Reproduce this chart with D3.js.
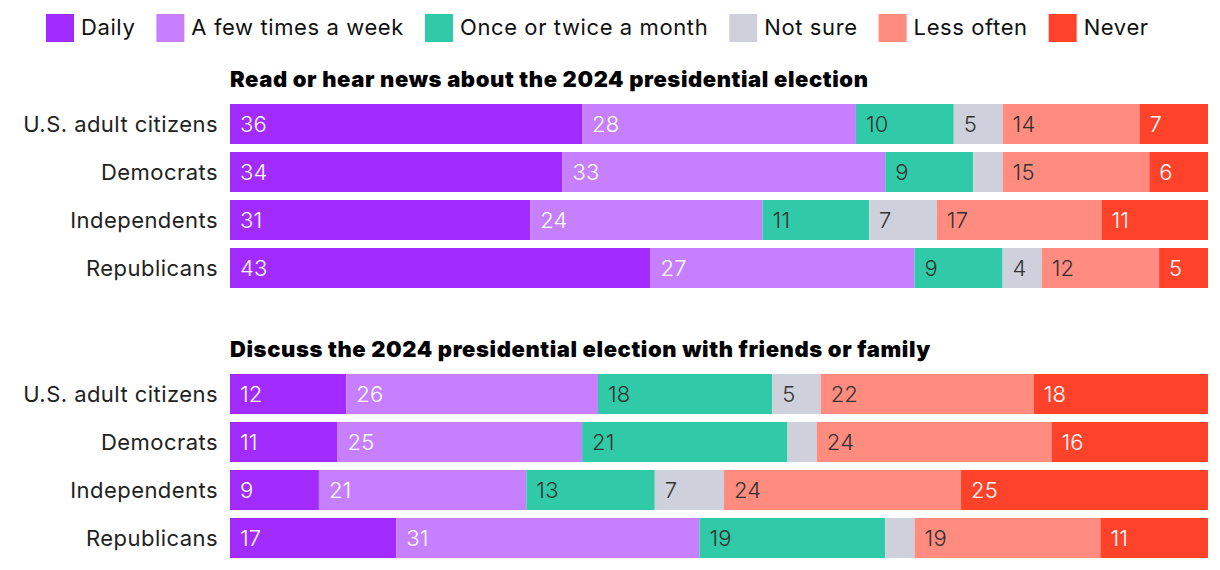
<!DOCTYPE html>
<html>
<head>
<meta charset="utf-8">
<script src="https://cdn.jsdelivr.net/npm/d3@7"></script>
<style>
  html, body { margin: 0; padding: 0; background: #fff; }
  svg { display: block; font-family: Inter, "Open Sans", sans-serif; }
</style>
</head>
<body>
<svg id="chart" width="1220" height="570"></svg>
<script>
// ---- data ----
const seriesNames = ["Daily", "A few times a week", "Once or twice a month", "Not sure", "Less often", "Never"];
const seriesColors = ["#A22BFF", "#C57FFF", "#31CAA9", "#CED1DB", "#FF8C7E", "#FF432B"];
const labelColors = ["#ffffff", "#ffffff", "#333333", "#333333", "#333333", "#ffffff"];
const groups = ["U.S. adult citizens", "Democrats", "Independents", "Republicans"];
const panelTitles = [
  "Read or hear news about the 2024 presidential election",
  "Discuss the 2024 presidential election with friends or family"
];
const newsValues = [
  [36, 28, 10, 5, 14, 7],
  [34, 33, 9, 3, 15, 6],
  [31, 24, 11, 7, 17, 11],
  [43, 27, 9, 4, 12, 5]
];
const discussValues = [
  [12, 26, 18, 5, 22, 18],
  [11, 25, 21, 3, 24, 16],
  [9, 21, 13, 7, 24, 25],
  [17, 31, 19, 3, 19, 11]
];
const panelValues = [newsValues, discussValues];

// ---- layout ----
const svg = d3.select("#chart");
const x0 = 230, x1 = 1208;
const x = d3.scaleLinear().domain([0, 1]).range([x0, x1]);
const panelTops = [104, 374];
const rowStep = 48, barH = 40;

// legend
const legend = svg.append("g");
let lx = 46;
seriesNames.forEach((name, i) => {
  const g = legend.append("g").attr("transform", `translate(${lx},14)`);
  g.append("rect").attr("width", 28).attr("height", 28).attr("fill", seriesColors[i]);
  const t = g.append("text").attr("x", 35).attr("y", 21)
    .attr("font-size", 22).attr("letter-spacing", 0.6).attr("fill", "#111").text(name);
  const w = t.node().getComputedTextLength();
  lx += 35 + w + 21;
});

panelValues.forEach((vals, p) => {
  const top = panelTops[p];
  const y = d3.scaleBand().domain(groups)
    .range([top, top + rowStep * groups.length - (rowStep - barH)])
    .paddingInner((rowStep - barH) / rowStep);
  const g = svg.append("g");
  g.append("text").attr("x", x0).attr("y", top - 17)
    .attr("font-size", 22).attr("font-weight", 900).attr("letter-spacing", 0.6).attr("fill", "#000")
    .text(panelTitles[p]);
  groups.forEach((grp, r) => {
    const row = vals[r];
    const total = d3.sum(row);
    let cum = 0;
    const by = top + r * rowStep;
    g.append("text").attr("x", 218).attr("y", by + barH / 2)
      .attr("dy", "0.36em").attr("text-anchor", "end")
      .attr("font-size", 22).attr("letter-spacing", 0.45).attr("fill", "#222").text(grp);
    row.forEach((v, s) => {
      const a = x(cum / total), b = x((cum + v) / total);
      cum += v;
      g.append("rect").attr("x", a).attr("y", by).attr("width", b - a).attr("height", barH)
        .attr("fill", seriesColors[s]);
      if (v >= 4) {
        g.append("text").attr("x", a + 10).attr("y", by + barH / 2).attr("dy", "0.36em")
          .attr("font-size", 22).attr("font-weight", 300).attr("letter-spacing", 0.2)
          .attr("fill", labelColors[s]).text(v);
      }
    });
  });
});
</script>
</body>
</html>
